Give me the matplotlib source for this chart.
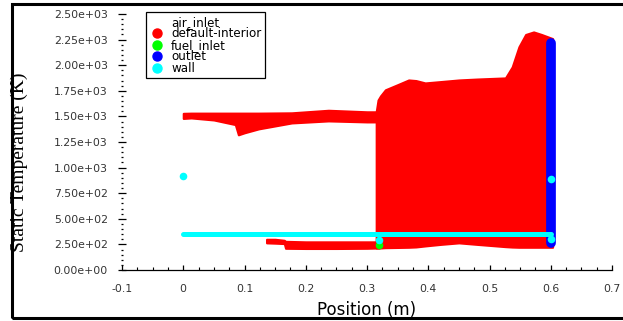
import numpy as np
import matplotlib
matplotlib.use("Agg")
import matplotlib.pyplot as plt
from matplotlib.patches import Rectangle
from matplotlib.lines import Line2D
from matplotlib.ticker import FixedLocator, MultipleLocator

# ---------------------------------------------------------------------------
# Data (position in m, static temperature in K)
# ---------------------------------------------------------------------------
# default-interior: thin upstream band (x = 0 .. 0.318)
band_x = [0.0, 0.013, 0.05, 0.085, 0.09, 0.10, 0.123, 0.177, 0.237, 0.30, 0.318]
band_top = [1530, 1532, 1532, 1532, 1532, 1532, 1532, 1535, 1560, 1545, 1545]
band_bot = [1480, 1485, 1465, 1420, 1320, 1340, 1378, 1436, 1456, 1446, 1446]

# default-interior: lower near-wall band (x = 0.136 .. 0.32)
low_x = [0.136, 0.15, 0.165, 0.167, 0.2, 0.25, 0.30, 0.32]
low_top = [300, 300, 290, 280, 275, 275, 275, 275]
low_bot = [265, 262, 258, 212, 210, 210, 212, 215]

# default-interior: main combustion block (x = 0.315 .. 0.603)
main_x = [0.315, 0.318, 0.322, 0.33, 0.35, 0.368, 0.38, 0.395, 0.42, 0.45,
          0.48, 0.526, 0.537, 0.548, 0.559, 0.572, 0.585, 0.603]
main_top = [1545, 1660, 1700, 1760, 1810, 1856, 1850, 1827, 1840, 1856,
            1865, 1876, 1983, 2180, 2300, 2325, 2300, 2260]
main_bot = [215, 215, 215, 218, 220, 222, 225, 235, 250, 265,
            250, 228, 224, 222, 222, 222, 222, 222]

# wall
wall_x = [0.0, 0.6]
wall_t = [347, 347]
wall_pts_x = [0.0, 0.6, 0.32, 0.6]
wall_pts_t = [920, 885, 295, 300]

# outlet
outlet_x = [0.6, 0.6]
outlet_t = [262, 2215]

# fuel_inlet
fuel_x = [0.32]
fuel_t = [245]

x_ticks = [-0.1, 0, 0.1, 0.2, 0.3, 0.4, 0.5, 0.6, 0.7]
x_labels = ["-0.1", "0", "0.1", "0.2", "0.3", "0.4", "0.5", "0.6", "0.7"]
y_ticks = [0, 250, 500, 750, 1000, 1250, 1500, 1750, 2000, 2250, 2500]

zones = ["air_inlet", "default-interior", "fuel_inlet", "outlet", "wall"]
zone_colors = ["white", "#ff0000", "#00ff00", "#0000ff", "#00ffff"]

RED, GREEN, BLUE, CYAN = zone_colors[1:]

# ---------------------------------------------------------------------------
# Plot
# ---------------------------------------------------------------------------
fig = plt.figure(figsize=(6.23, 3.21), dpi=100)
ax = fig.add_axes([122 / 623, 51 / 321, 490 / 623, 256 / 321])

# red zone
ax.fill_between(band_x, band_bot, band_top, color=RED, lw=1.5, edgecolor=RED)
ax.fill_between(low_x, low_bot, low_top, color=RED, lw=1.5, edgecolor=RED)
ax.fill_between(main_x, main_bot, main_top, color=RED, lw=1.5, edgecolor=RED)

# outlet column
ax.plot(outlet_x, outlet_t, color=BLUE, lw=7, solid_capstyle="round", zorder=3)

# wall line and isolated wall nodes
ax.plot(wall_x, wall_t, color=CYAN, lw=3.6, solid_capstyle="round", zorder=4)
ax.scatter(wall_pts_x, wall_pts_t, s=30, color=CYAN, zorder=5, linewidths=0)

# fuel inlet
ax.scatter(fuel_x, fuel_t, s=30, color=GREEN, zorder=4, linewidths=0)

ax.set_xlim(-0.1, 0.7)
ax.set_ylim(0, 2500)

for s in ["top", "right", "left"]:
    ax.spines[s].set_visible(False)
ax.spines["bottom"].set_linewidth(0.9)

ax.xaxis.set_major_locator(FixedLocator(x_ticks))
ax.set_xticklabels(x_labels)
ax.xaxis.set_minor_locator(MultipleLocator(0.025))
ax.yaxis.set_major_locator(FixedLocator(y_ticks))
ax.set_yticklabels(["%.2e" % v for v in y_ticks])
ax.yaxis.set_minor_locator(MultipleLocator(50))

ax.tick_params(axis="x", which="major", direction="in", length=3.5, width=0.9,
               pad=10, labelsize=7.8, labelcolor="#333333")
ax.tick_params(axis="x", which="minor", direction="in", length=2, width=0.8)
ax.tick_params(axis="y", which="major", direction="inout", length=5.5, width=0.9,
               pad=7.5, labelsize=7.8, labelcolor="#333333")
ax.tick_params(axis="y", which="minor", direction="inout", length=1.6, width=0.9)
for lab in ax.get_xticklabels() + ax.get_yticklabels():
    lab.set_family("DejaVu Sans")

ax.set_xlabel("Position (m)", fontsize=12, family="DejaVu Sans")
ax.set_ylabel("Static Temperature (K)", fontsize=14, family="Liberation Serif")
ax.yaxis.set_label_coords(-0.192, 0.42)
ax.xaxis.set_label_coords(0.5, -0.12)

# legend
handles = [Line2D([], [], ls="none", marker="o", markersize=6.5,
                  markerfacecolor=c, markeredgecolor=c) for c in zone_colors]
leg = ax.legend(handles, zones, loc="upper left",
                bbox_to_anchor=(146 / 623, 1 - 12 / 321),
                bbox_transform=fig.transFigure,
                prop={"family": "DejaVu Sans", "size": 8.6},
                frameon=True, fancybox=False, framealpha=1,
                edgecolor="black", labelspacing=-0.12, handlelength=1.3,
                handletextpad=0.5, borderpad=0.3, borderaxespad=0)
leg.get_frame().set_linewidth(0.9)

# outer frame around the whole picture
fig.patches.append(Rectangle((11.5 / 623, 3 / 321), 0.99, 314 / 321,
                             transform=fig.transFigure, fill=False,
                             edgecolor="black", linewidth=2.2))

fig.savefig("out.png", dpi=100)
